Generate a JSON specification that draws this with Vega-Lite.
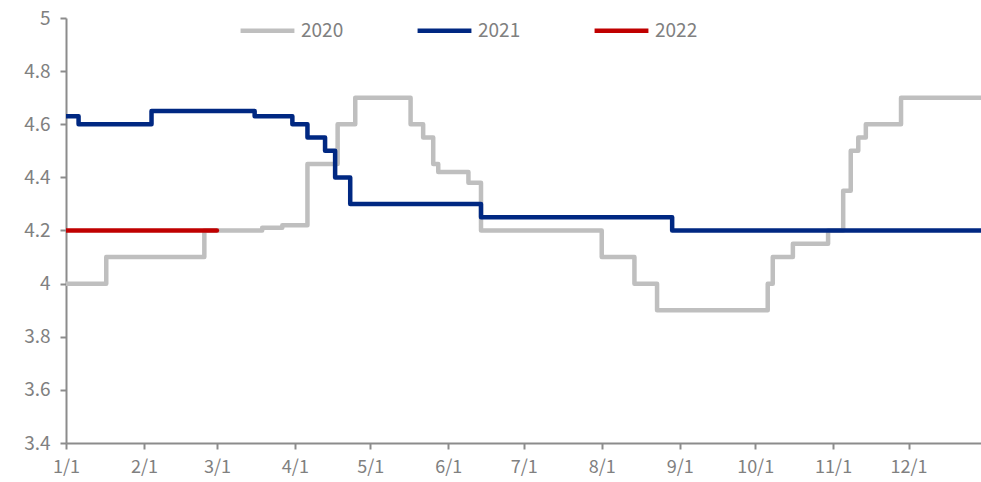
{
  "$schema": "https://vega.github.io/schema/vega-lite/v6.json",
  "width": 915,
  "height": 425,
  "autosize": {"type": "none"},
  "padding": {"left": 66, "top": 18, "right": 0, "bottom": 39},
  "background": "white",
  "config": {
    "view": {"stroke": null},
    "font": "Noto Sans CJK SC"
  },
  "data": {
    "values": [
      {"series": "2020", "date": "2020-01-01", "value": 4.0},
      {"series": "2020", "date": "2020-01-17", "value": 4.1},
      {"series": "2020", "date": "2020-02-25", "value": 4.2},
      {"series": "2020", "date": "2020-03-19", "value": 4.21},
      {"series": "2020", "date": "2020-03-27", "value": 4.22},
      {"series": "2020", "date": "2020-04-06", "value": 4.45},
      {"series": "2020", "date": "2020-04-18", "value": 4.6},
      {"series": "2020", "date": "2020-04-25", "value": 4.7},
      {"series": "2020", "date": "2020-05-17", "value": 4.6},
      {"series": "2020", "date": "2020-05-22", "value": 4.55},
      {"series": "2020", "date": "2020-05-26", "value": 4.45},
      {"series": "2020", "date": "2020-05-28", "value": 4.42},
      {"series": "2020", "date": "2020-06-09", "value": 4.38},
      {"series": "2020", "date": "2020-06-14", "value": 4.2},
      {"series": "2020", "date": "2020-08-01", "value": 4.1},
      {"series": "2020", "date": "2020-08-14", "value": 4.0},
      {"series": "2020", "date": "2020-08-23", "value": 3.9},
      {"series": "2020", "date": "2020-10-06", "value": 4.0},
      {"series": "2020", "date": "2020-10-08", "value": 4.1},
      {"series": "2020", "date": "2020-10-16", "value": 4.15},
      {"series": "2020", "date": "2020-10-30", "value": 4.2},
      {"series": "2020", "date": "2020-11-05", "value": 4.35},
      {"series": "2020", "date": "2020-11-08", "value": 4.5},
      {"series": "2020", "date": "2020-11-11", "value": 4.55},
      {"series": "2020", "date": "2020-11-14", "value": 4.6},
      {"series": "2020", "date": "2020-11-28", "value": 4.7},
      {"series": "2020", "date": "2020-12-31", "value": 4.7},
      {"series": "2021", "date": "2020-01-01", "value": 4.63},
      {"series": "2021", "date": "2020-01-06", "value": 4.6},
      {"series": "2021", "date": "2020-02-04", "value": 4.65},
      {"series": "2021", "date": "2020-03-16", "value": 4.63},
      {"series": "2021", "date": "2020-03-31", "value": 4.6},
      {"series": "2021", "date": "2020-04-06", "value": 4.55},
      {"series": "2021", "date": "2020-04-13", "value": 4.5},
      {"series": "2021", "date": "2020-04-17", "value": 4.4},
      {"series": "2021", "date": "2020-04-23", "value": 4.3},
      {"series": "2021", "date": "2020-06-14", "value": 4.25},
      {"series": "2021", "date": "2020-08-29", "value": 4.2},
      {"series": "2021", "date": "2020-12-31", "value": 4.2},
      {"series": "2022", "date": "2020-01-01", "value": 4.2},
      {"series": "2022", "date": "2020-03-01", "value": 4.2}
    ]
  },
  "mark": {"type": "line", "interpolate": "step-after", "strokeWidth": 4.5, "strokeCap": "round", "strokeJoin": "round", "clip": true},
  "encoding": {
    "x": {
      "field": "date",
      "type": "temporal",
      "scale": {
        "type": "utc",
        "domain": [
          {"year": 2020, "month": 1, "date": 1, "utc": true},
          {"year": 2020, "month": 12, "date": 29, "hours": 19, "utc": true}
        ]
      },
      "axis": {
        "title": null,
        "grid": false,
        "labelExpr": "utcFormat(datum.value, '%-m/%-d')",
        "values": [
          {"year": 2020, "month": 1, "date": 1, "utc": true},
          {"year": 2020, "month": 2, "date": 1, "utc": true},
          {"year": 2020, "month": 3, "date": 1, "utc": true},
          {"year": 2020, "month": 4, "date": 1, "utc": true},
          {"year": 2020, "month": 5, "date": 1, "utc": true},
          {"year": 2020, "month": 6, "date": 1, "utc": true},
          {"year": 2020, "month": 7, "date": 1, "utc": true},
          {"year": 2020, "month": 8, "date": 1, "utc": true},
          {"year": 2020, "month": 9, "date": 1, "utc": true},
          {"year": 2020, "month": 10, "date": 1, "utc": true},
          {"year": 2020, "month": 11, "date": 1, "utc": true},
          {"year": 2020, "month": 12, "date": 1, "utc": true}
        ],
        "domainColor": "#8c8c8c",
        "domainWidth": 2,
        "tickColor": "#8c8c8c",
        "tickWidth": 2,
        "tickSize": 6,
        "labelColor": "#808080",
        "labelFontSize": 18,
        "labelPadding": 9,
        "labelFlush": false,
        "labelOverlap": false
      }
    },
    "y": {
      "field": "value",
      "type": "quantitative",
      "scale": {"domain": [3.4, 5], "zero": false, "nice": false},
      "axis": {
        "title": null,
        "grid": false,
        "values": [3.4, 3.6, 3.8, 4.0, 4.2, 4.4, 4.6, 4.8, 5.0],
        "format": ".2~f",
        "domainColor": "#8c8c8c",
        "domainWidth": 2,
        "tickColor": "#8c8c8c",
        "tickWidth": 2,
        "tickSize": 6,
        "labelColor": "#808080",
        "labelFontSize": 19,
        "labelPadding": 10
      }
    },
    "color": {
      "field": "series",
      "type": "nominal",
      "scale": {"domain": ["2020", "2021", "2022"], "range": ["#bfbfbf", "#002882", "#c00000"]},
      "legend": {
        "title": null,
        "orient": "none",
        "direction": "horizontal",
        "legendX": 172,
        "legendY": -17,
        "symbolType": "stroke",
        "symbolSize": 2900,
        "symbolStrokeWidth": 4.5,
        "labelFontSize": 19,
        "labelColor": "#808080",
        "labelOffset": 4,
        "columnPadding": 64
      }
    }
  }
}
